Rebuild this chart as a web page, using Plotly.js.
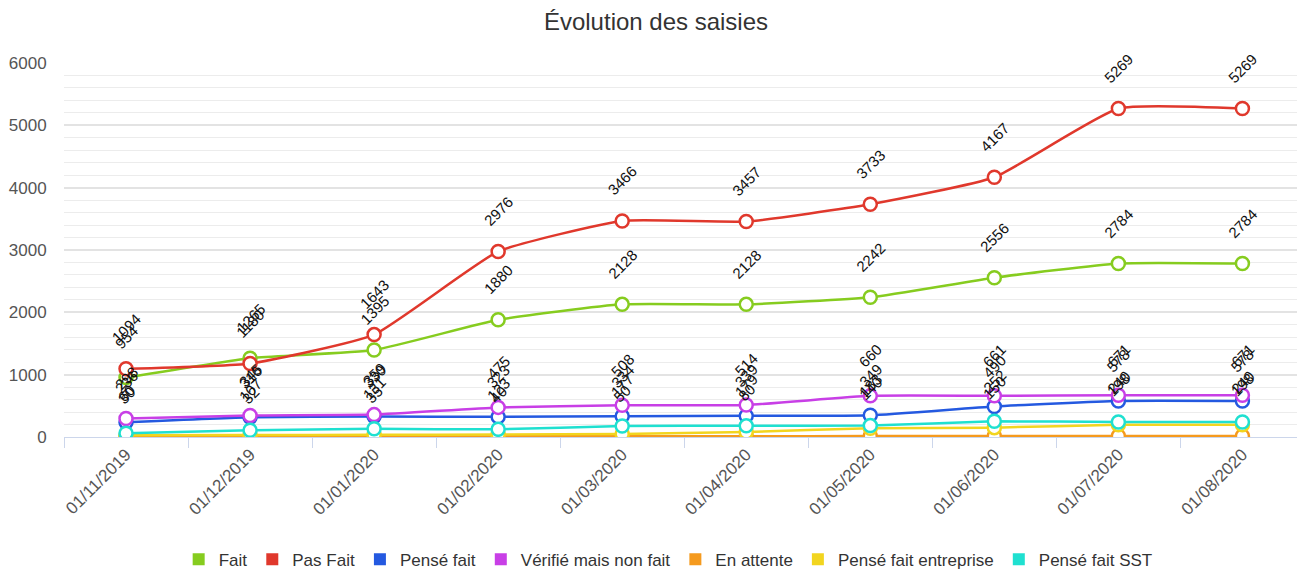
<!DOCTYPE html>
<html><head><meta charset="utf-8">
<script src="https://cdn.plot.ly/plotly-3.0.1.min.js"></script>
<style>html,body{margin:0;padding:0;background:#fff}#chart{width:1299px;height:571px}</style>
</head><body><div id="chart"></div>
<script>
const months = ['01/11/2019','01/12/2019','01/01/2020','01/02/2020','01/03/2020','01/04/2020','01/05/2020','01/06/2020','01/07/2020','01/08/2020'];
const fait       = [954, 1265, 1395, 1880, 2128, 2128, 2242, 2556, 2784, 2784];
const pasFait    = [1094, 1180, 1643, 2976, 3466, 3457, 3733, 4167, 5269, 5269];
const penseFait  = [236, 316, 330, 323, 334, 339, 349, 490, 578, 578];
const verifie    = [298, 345, 359, 475, 508, 514, 660, 661, 671, 671];
const enAttente  = [5, 6, 8, 10, 12, 12, 15, 15, 18, 18];
const entreprise = [30, 32, 35, 40, 50, 80, 140, 150, 198, 198];
const sst        = [60, 107, 131, 123, 177, 179, 183, 252, 240, 240];

const seriesNames  = ['Fait','Pas Fait','Pensé fait','Vérifié mais non fait','En attente','Pensé fait entreprise','Pensé fait SST'];
const seriesValues = [fait, pasFait, penseFait, verifie, enAttente, entreprise, sst];
const seriesColors = ['#86cc1f','#e0382c','#2459e0','#c83fe6','#f59a1e','#f2d51f','#1fe0d0'];
const labelled     = [true, true, true, true, false, true, true];

const FONT = 'Liberation Sans, Arial, sans-serif';
const traces = [];
seriesNames.forEach((n, i) => {
  traces.push({
    type: 'scatter', mode: 'lines+markers', name: n, showlegend: false,
    x: months, y: seriesValues[i],
    line: {color: seriesColors[i], width: 2.5, shape: 'spline', smoothing: 0.45},
    marker: {symbol: 'circle', size: 13, color: '#ffffff', line: {color: seriesColors[i], width: 2.5}},
    cliponaxis: true
  });
});
seriesNames.forEach((n, i) => {
  traces.push({
    type: 'scatter', mode: 'markers', name: n, x: [null], y: [null],
    marker: {symbol: 'square', size: 12, color: seriesColors[i]}
  });
});

const annotations = [];
seriesValues.forEach((vals, i) => {
  if (!labelled[i]) return;
  vals.forEach((v, j) => {
    annotations.push({
      x: months[j], y: v, xref: 'x', yref: 'y', text: String(v), showarrow: false,
      textangle: -45, xshift: 0, yshift: 40,
      font: {family: FONT, size: 15, color: '#111'}
    });
  });
});

const layout = {
  width: 1299, height: 571,
  margin: {l: 64, r: 2, t: 63, b: 134},
  paper_bgcolor: '#fff', plot_bgcolor: '#fff',
  font: {family: FONT},
  title: {text: 'Évolution des saisies', x: 0.505, xanchor: 'center', y: 0.962, yref: 'container', yanchor: 'middle',
          font: {family: FONT, size: 24, color: '#333'}},
  xaxis: {
    type: 'category', range: [-0.5, 9.44], showgrid: false, zeroline: false,
    showline: true, linecolor: '#ccd6eb', linewidth: 1,
    ticks: 'outside', tickson: 'boundaries', ticklen: 10, tickcolor: '#ccd6eb',
    tickangle: -45, tickfont: {family: FONT, size: 17, color: '#555'}
  },
  yaxis: {
    range: [0, 6000], dtick: 1000, showgrid: true, gridcolor: '#e3e3e3', gridwidth: 1.5,
    zeroline: false, showline: false,
    ticks: 'outside', ticklen: 13, tickcolor: 'rgba(0,0,0,0)',
    tickfont: {family: FONT, size: 17, color: '#555'},
    minor: {dtick: 200, showgrid: true, gridcolor: '#ececec', gridwidth: 1}
  },
  legend: {orientation: 'h', x: 0.49, xanchor: 'center', y: 0.02, yref: 'container', yanchor: 'middle',
           font: {family: FONT, size: 17, color: '#333'}, itemwidth: 30, tracegroupgap: 0},
  annotations: annotations,
  showlegend: true
};

Plotly.newPlot('chart', traces, layout, {displayModeBar: false, responsive: false});
</script>
</body></html>
